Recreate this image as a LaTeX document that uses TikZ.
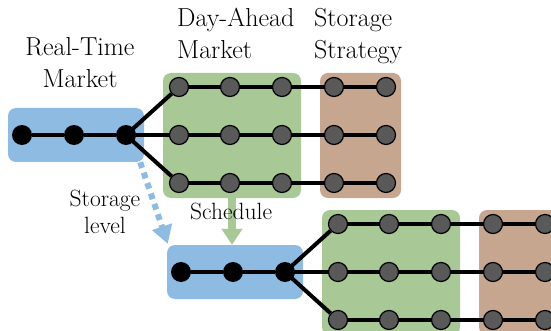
\documentclass[tikz,border=0pt]{standalone}
\usetikzlibrary{arrows.meta,backgrounds}
\definecolor{boxblue}{HTML}{8DBBE2}
\definecolor{boxgreen}{HTML}{A8C896}
\definecolor{boxbrown}{HTML}{C6A68F}
\definecolor{nodegray}{HTML}{595959}
\tikzset{
  panel/.style={rounded corners=8pt, inner sep=0pt, draw=none},
  bluebox/.style={panel, fill=boxblue},
  greenbox/.style={panel, fill=boxgreen},
  brownbox/.style={panel, fill=boxbrown},
  kdot/.style={circle, fill=black, minimum size=20pt, inner sep=0pt},
  gdot/.style={circle, fill=nodegray, draw=black, line width=1.2pt, minimum size=19pt, inner sep=0pt},
  link/.style={line width=4pt, black},
  biglbl/.style={font=\rmfamily\fontsize{26}{32}\selectfont, inner sep=0pt},
  smalllbl/.style={font=\rmfamily\fontsize{23.5}{26}\selectfont, inner sep=0pt},
}
\begin{document}
\begin{tikzpicture}[x=1pt,y=-1pt]
\clip (0,0) rectangle (551,331);
\foreach \p/\dx/\dy in {t/0/0,b/159/137}{
  \begin{scope}[shift={(\dx,\dy)}]
    \foreach \i/\x in {1/22,2/74,3/126} \node[kdot] (\p-k\i) at (\x,135) {};
    \foreach \r/\y in {1/87,2/135,3/183}{
      \foreach \c/\x in {1/179,2/230,3/282} \node[gdot] (\p-g\r\c) at (\x,\y) {};
      \foreach \c/\x in {1/334,2/386} \node[gdot] (\p-s\r\c) at (\x,\y) {};
    }
    \begin{scope}[on background layer]
      \node[bluebox, minimum width=136pt, minimum height=54pt] (\p-rt) at (76,135) {};
      \node[greenbox, minimum width=138pt, minimum height=125pt] (\p-da) at (232,135.5) {};
      \node[brownbox, minimum width=81pt, minimum height=125pt] (\p-ss) at (360.5,135.5) {};
      \draw[link] (\p-k1) -- (\p-k2) -- (\p-k3);
      \foreach \r in {1,2,3}{
        \draw[link] (\p-k3.center) -- (\p-g\r1);
        \draw[link] (\p-g\r1) -- (\p-g\r2) -- (\p-g\r3) -- (\p-s\r1) -- (\p-s\r2);
      }
    \end{scope}
  \end{scope}
}
\draw[line width=6pt, boxblue, dash pattern=on 6pt off 5pt, -{Triangle[length=18pt,width=20pt]}]
  ([xshift=-4pt]t-rt.south east) -- ([xshift=1pt,yshift=1pt]b-rt.north west);
\draw[line width=8pt, boxgreen, -{Triangle[length=16pt,width=20pt]}]
  (t-da.south) -- (t-da.south |- b-rt.north);
\node[biglbl, align=center, anchor=base] (rtl) at (80,88) {Real-Time\\Market};
\node[biglbl, align=left, anchor=base west] (dal) at (177,59) {Day-Ahead\\Market};
\node[biglbl, align=left, anchor=base west] (ssl) at (314,59) {Storage\\Strategy};
\node[smalllbl, align=center, anchor=base] (sll) at (105,233) {Storage\\level};
\node[smalllbl, anchor=base west] (scl) at (190,219) {Schedule};
\end{tikzpicture}
\end{document}
